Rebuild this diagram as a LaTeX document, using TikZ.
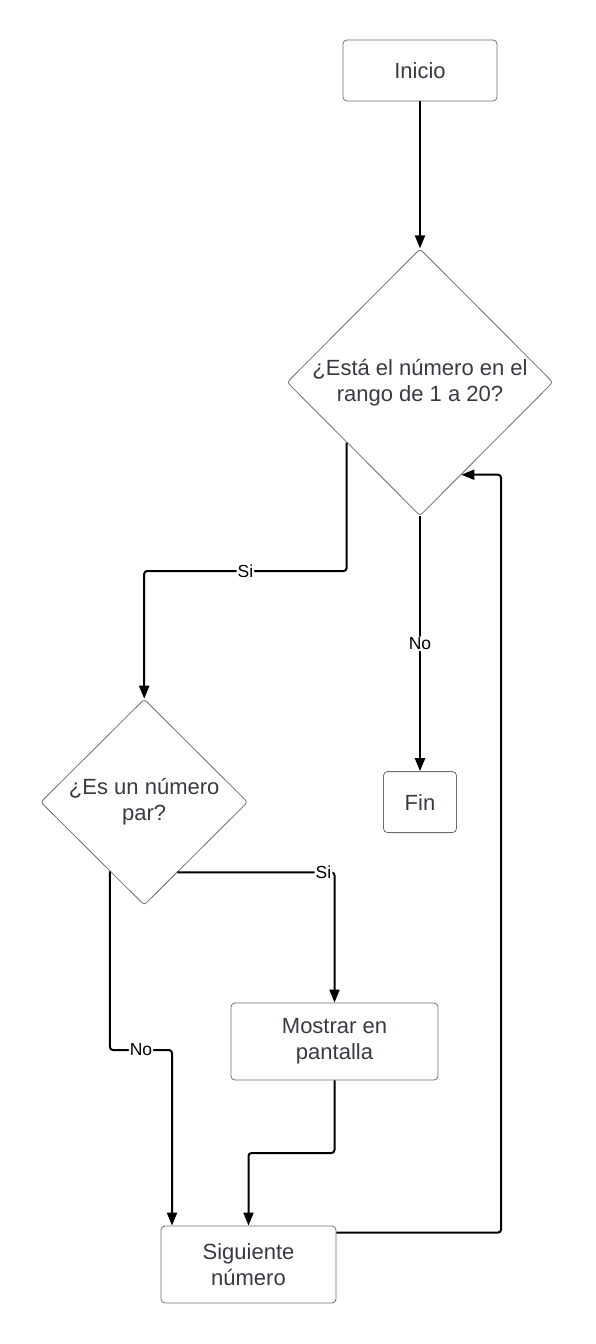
\documentclass[tikz,border=0pt]{standalone}
\usepackage{fontspec}
\setmainfont{Liberation Sans}
\usepackage{xcolor}
\usetikzlibrary{positioning}
\usetikzlibrary{shapes.geometric, arrows.meta, calc}
\definecolor{txtgray}{HTML}{363A44}
\definecolor{boxgray}{HTML}{6E6E6E}
\tikzset{
    box/.style={draw=boxgray, line width=0.8pt, rectangle, rounded corners=4pt, inner sep=0pt, align=center, text=txtgray, font=\fontsize{22}{26}\selectfont},
    decision/.style={draw=boxgray, line width=0.8pt, diamond, rounded corners=3pt, inner sep=0pt, align=center, text=txtgray, font=\fontsize{22}{26}\selectfont},
    arrow/.style={line width=2pt, rounded corners=3pt, -{Triangle[length=13pt,width=10pt]}},
    lbl/.style={fill=white, inner sep=1pt, text=black, font=\fontsize{17.5}{19}\selectfont}
}

\begin{document}
\begin{tikzpicture}[x=1pt, y=-1pt]
\useasboundingbox (0,0) rectangle (595,1344);

\node [box, minimum width=154pt, minimum height=61pt] (inicio) at (420,70.5) {Inicio};
\node [decision, minimum width=266pt, minimum height=267pt, below=147pt of inicio] (rango) {¿Está el número en el\\rango de 1 a 20?};
\node [box, minimum width=73pt, minimum height=61pt, below=255pt of rango] (fin) {Fin};
\node [decision, minimum width=207pt, minimum height=206pt, left=135pt of fin] (par) {¿Es un número\\par?};
\node [box, minimum width=207pt, minimum height=77pt] (mostrar) at (334.5,1041.5) {Mostrar en\\pantalla};
\node [box, minimum width=175pt, minimum height=77pt] (siguiente) at (248.5,1264.5) {Siguiente\\número};

\coordinate (rsi) at ($(rango.west)!0.45!(rango.south)$);
\coordinate (rback) at ($(rango.south)!0.31!(rango.east)$);
\coordinate (psi) at ($(par.east)!0.68!(par.south)$);
\coordinate (pno) at ($(par.west)!0.67!(par.south)$);
\coordinate (sout) at ($(siguiente.north east)+(0,7)$);

\draw [arrow] (inicio) -- (rango);
\draw [arrow] (rsi) -- (rsi |- 0,571) -- node [lbl] {Si} (par.north |- 0,571) -- (par.north);
\draw [arrow] (rango.south) -- node [lbl] {No} (fin.north);
\draw [arrow] (psi) -| node [lbl, pos=0.465] {Si} (mostrar.north);
\draw [arrow] (pno) -- (pno |- 0,1050) -- node [lbl] {No} (172,1050) -- (172,0 |- siguiente.north);
\draw [arrow] (mostrar.south) -- (mostrar.south |- 0,1153) -- (siguiente.north |- 0,1153) -- (siguiente.north);
\draw [arrow] (sout) -- (501,0 |- sout) -- (501,0 |- rback) -- (rback);

\end{tikzpicture}
\end{document}
